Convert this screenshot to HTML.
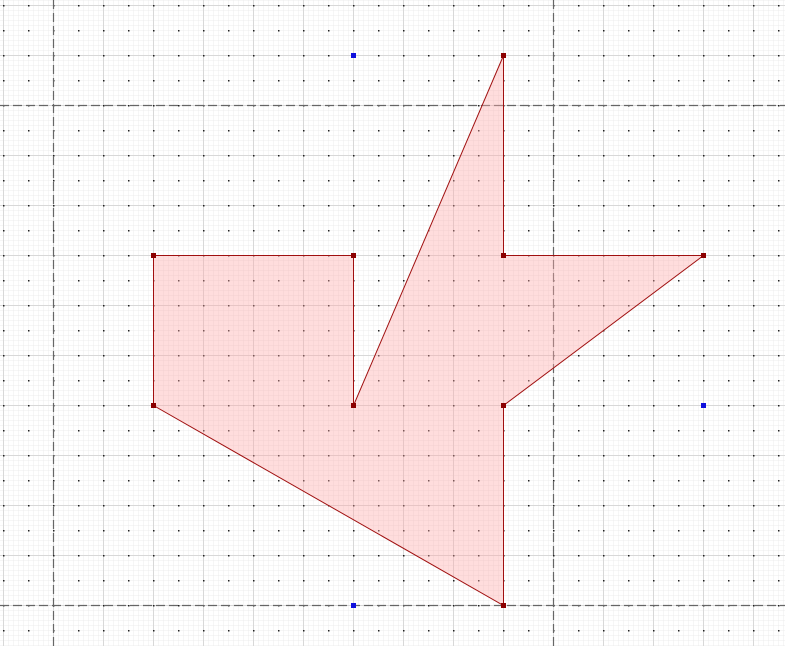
<!DOCTYPE html>
<html><head><meta charset="utf-8"><style>html,body{margin:0;padding:0;background:#fff;overflow:hidden}svg{display:block}</style></head>
<body>
<svg id="chart" width="785" height="646" xmlns="http://www.w3.org/2000/svg">
<defs>
<pattern id="minor" x="3" y="0" width="5" height="5" patternUnits="userSpaceOnUse">
<path d="M0 0V5M0 0H5" stroke="#ececec" stroke-width="1" fill="none"/>
</pattern>
</defs>
<rect x="0" y="0" width="785" height="646" fill="url(#minor)"/>
<g id="major"></g>
<g id="dots"></g>
<g id="axes"></g>
<g id="shape"></g>
<g id="pts"></g>
</svg>
<script>
const vertexX = [2, 6, 6, 9, 9, 13, 9, 9, 2];
const vertexY = [5, 5, 8, 1, 5, 5, 8, 12, 8];
const controlX = [6, 13, 6];
const controlY = [1, 8, 12];
const guideX = [0, 10];
const guideY = [2, 12];
const NS = "http://www.w3.org/2000/svg";
const sx = v => 53 + v * 50;
const sy = v => 5 + v * 50;
function mk(tag, attrs, parent) {
  const e = document.createElementNS(NS, tag);
  for (const k in attrs) e.setAttribute(k, attrs[k]);
  parent.appendChild(e);
  return e;
}
const major = document.getElementById('major');
for (let x = 3; x < 785; x += 50) { const l = mk('line', {x1: x+0.5, y1: 0, x2: x+0.5, y2: 646, stroke: '#d8d8d8'}, major);
  
   }
for (let y = 5; y < 646; y += 50) { const l = mk('line', {x1: 0, y1: y+0.5, x2: 785, y2: y+0.5, stroke: '#d8d8d8'}, major);
  
   }
const dots = document.getElementById('dots');
for (let x = 3; x < 785; x += 25) for (let y = 5; y < 646; y += 25) mk('rect', {x: x, y: y, width: 1.5, height: 1.5, fill: '#222'}, dots);
const axes = document.getElementById('axes');
guideX.forEach(v => { const l = mk('line', {x1: sx(v)+0.5, y1: 0, x2: sx(v)+0.5, y2: 646, stroke: '#666', 'stroke-width': 1.2, 'stroke-dasharray': '9,4'}, axes);
  
   });
guideY.forEach(v => { const l = mk('line', {x1: 0, y1: sy(v)+0.5, x2: 785, y2: sy(v)+0.5, stroke: '#666', 'stroke-width': 1.2, 'stroke-dasharray': '9,4'}, axes);
  
   });
const pts = vertexX.map((v, i) => (sx(v)+0.5) + ',' + (sy(vertexY[i])+0.5)).join(' ');
const poly = mk('polygon', {points: pts, fill: 'rgba(255,170,170,0.4)', stroke: '#a01010', 'stroke-width': 1}, document.getElementById('shape'));


const pg = document.getElementById('pts');
vertexX.forEach((v, i) => { const r = mk('rect', {x: sx(v)-2, y: sy(vertexY[i])-2, width: 5, height: 5, fill: '#8b0000'}, pg);
  
   });
controlX.forEach((v, i) => { const r = mk('rect', {x: sx(v)-2, y: sy(controlY[i])-2, width: 5, height: 5, fill: '#1010dd'}, pg);
  
   });
</script>
</body></html>
